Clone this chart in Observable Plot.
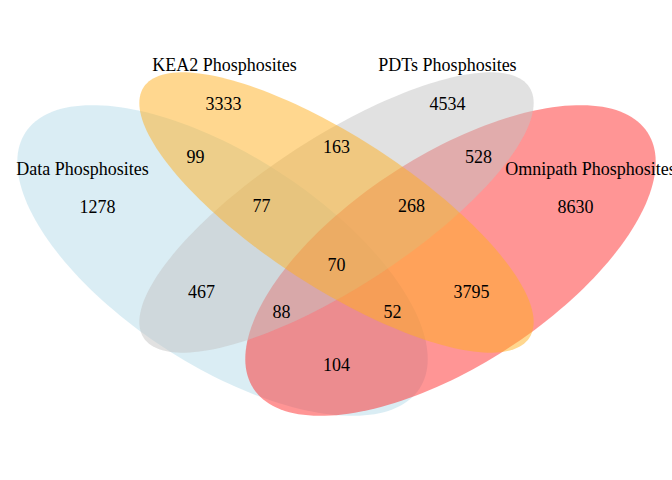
<!DOCTYPE html>
<html>
<head>
<script src="https://cdn.jsdelivr.net/npm/d3@7"></script>
<script src="https://cdn.jsdelivr.net/npm/@observablehq/plot@0.6"></script>
<style>body{margin:0;background:#fff}</style>
</head>
<body>
<div id="chart"></div>
<script>
// Set ellipses (screen coordinates, angle in degrees)
const sets = ["Data", "Omnipath", "PDTs", "KEA2"];
const centerX = [222, 450, 336, 336];
const centerY = [260, 260, 212, 212];
const radiusA = [235, 235, 230, 230];
const radiusB = [105, 105, 75, 75];
const angles = [33, -33, -33, 33];
const fills = ["#add8e6", "#ff2222", "#c4c4c4", "#ffb020"];
const opac = [0.45, 0.48, 0.5, 0.5];

// Set titles
const titles = ["Data Phosphosites", "KEA2 Phosphosites", "PDTs Phosphosites", "Omnipath Phosphosites"];
const titleX = [82, 224, 447, 590];
const titleY = [169, 65, 65, 169];

// Region counts
const counts = [1278, 3333, 4534, 8630, 99, 163, 528, 77, 268, 70, 467, 3795, 88, 52, 104];
const countX = [97, 223, 447, 575, 195, 336, 478, 261, 411, 336, 201, 471, 281, 392, 336];
const countY = [207, 104, 104, 207, 157, 147, 157, 206, 206, 265, 292, 292, 312, 312, 365];

const ellipsePts = sets.flatMap((s, i) => {
  const t = angles[i] * Math.PI / 180;
  return d3.range(0, 361, 2).map(k => {
    const u = k * Math.PI / 180;
    const ex = radiusA[i] * Math.cos(u), ey = radiusB[i] * Math.sin(u);
    return {set: s, x: centerX[i] + ex * Math.cos(t) - ey * Math.sin(t), y: centerY[i] + ex * Math.sin(t) + ey * Math.cos(t)};
  });
});

const titleData = titles.map((t, i) => ({t, x: titleX[i], y: titleY[i]}));
const countData = counts.map((c, i) => ({c, x: countX[i], y: countY[i]}));

const plot = Plot.plot({
  width: 672,
  height: 480,
  margin: 0,
  x: {domain: [0, 672], range: [0, 672], axis: null},
  y: {domain: [0, 480], range: [0, 480], axis: null},
  style: {fontFamily: "Liberation Serif, serif", background: "#fff"},
  marks: [
    ...sets.map((s, i) => Plot.line(ellipsePts.filter(d => d.set === s), {
      x: "x", y: "y", fill: fills[i], fillOpacity: opac[i], stroke: "none"
    })),
    Plot.text(titleData, {x: "x", y: "y", text: "t", fontSize: 18, fill: "#000"}),
    Plot.text(countData, {x: "x", y: "y", text: d => String(d.c), fontSize: 18, fill: "#000"})
  ]
});
document.getElementById("chart").appendChild(plot);
</script>
</body>
</html>
